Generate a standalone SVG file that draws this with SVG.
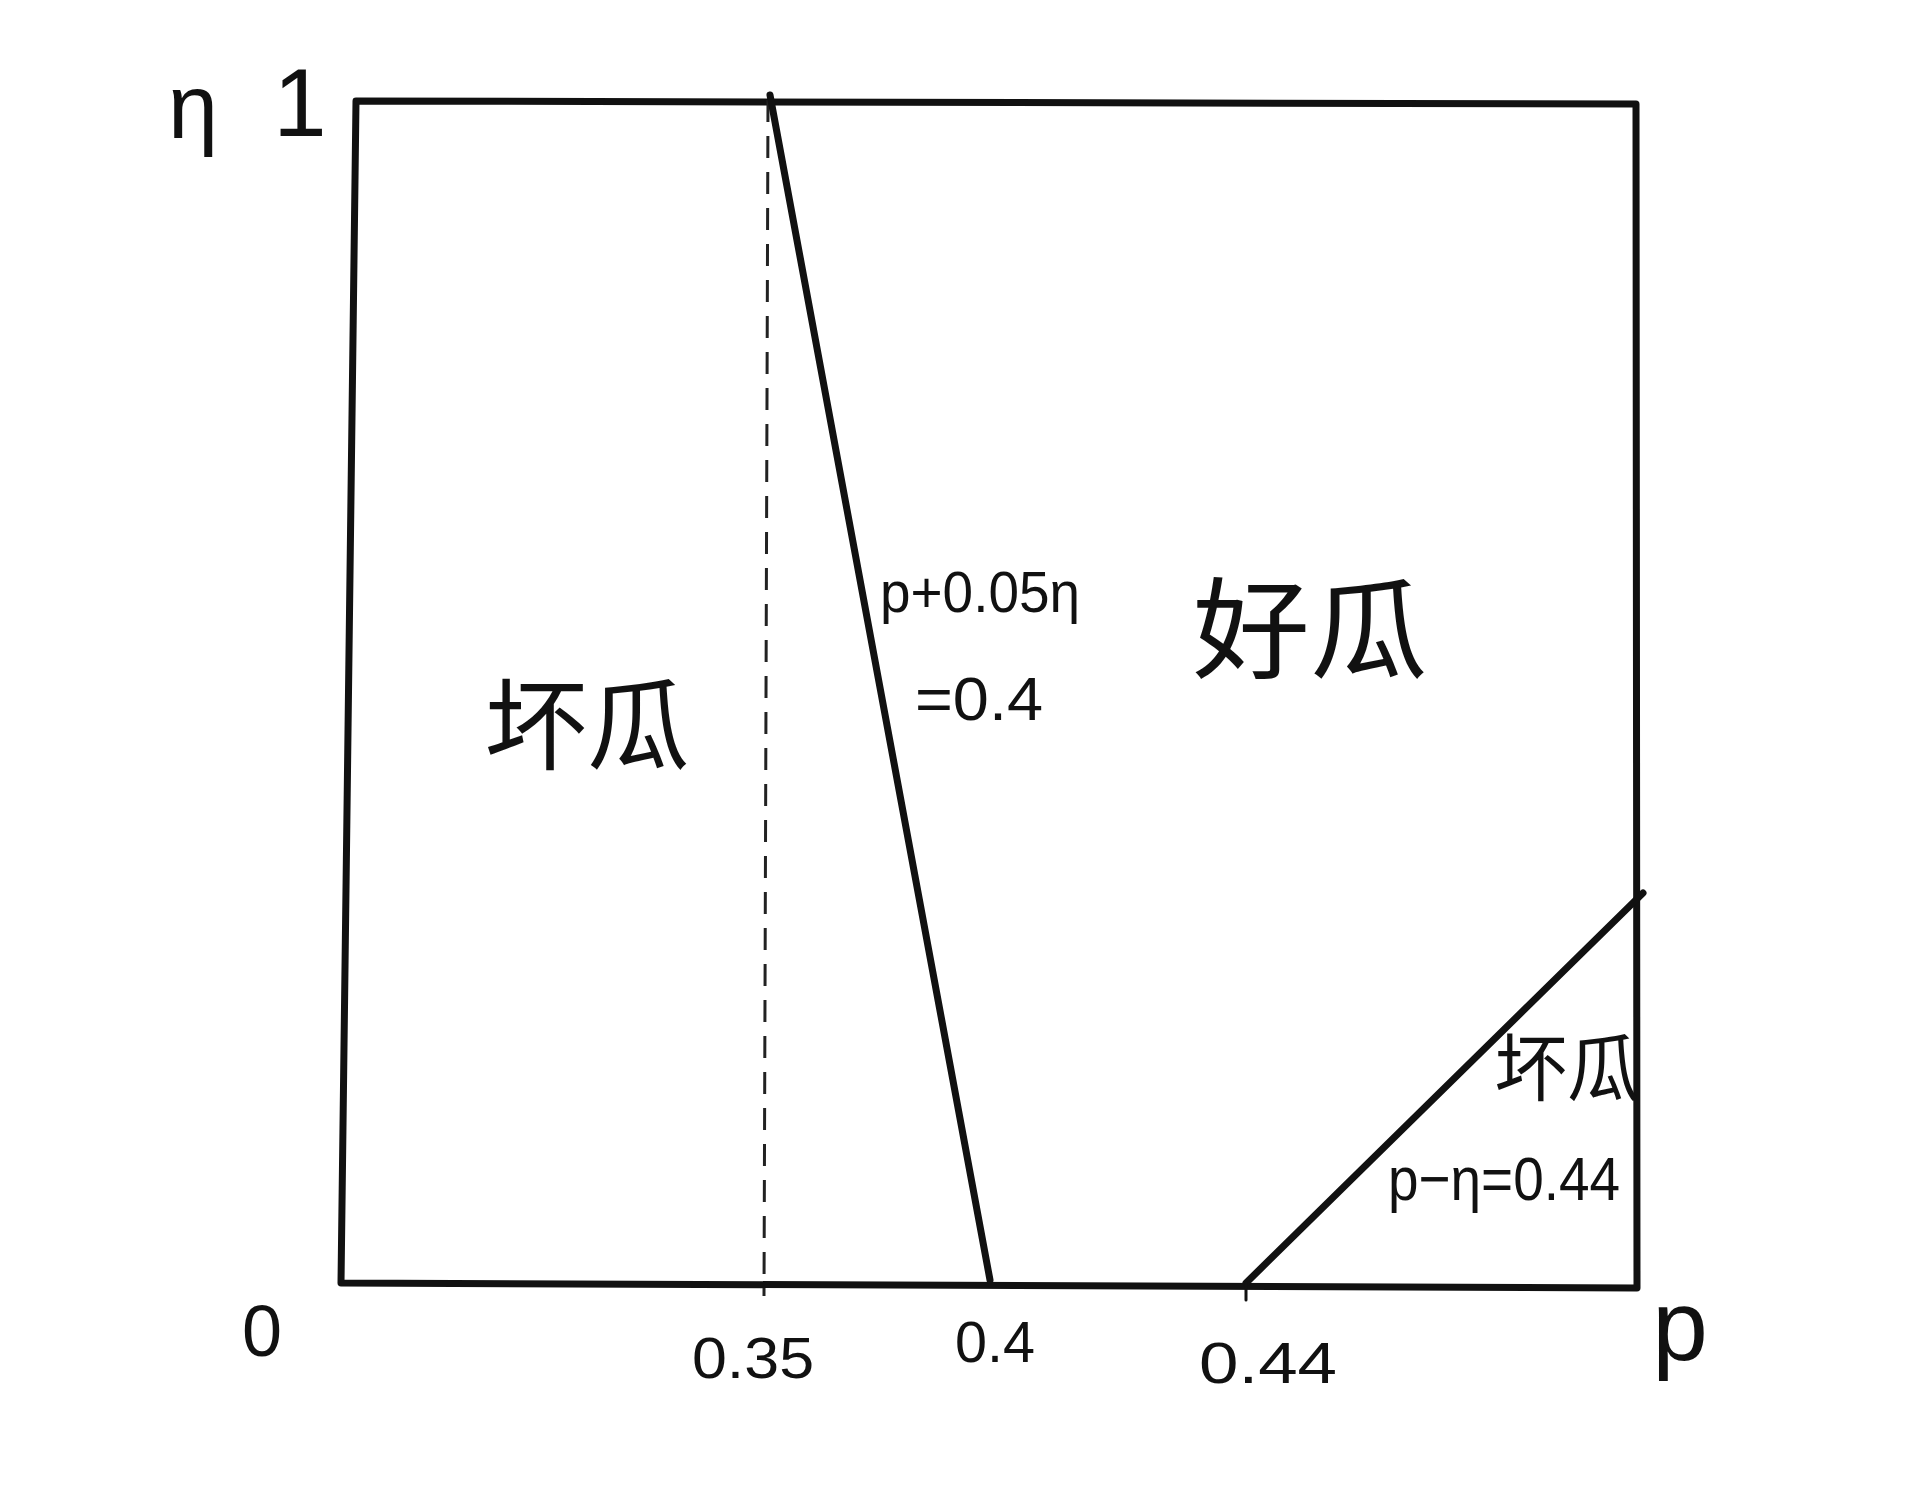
<svg xmlns="http://www.w3.org/2000/svg" width="1911" height="1492" viewBox="0 0 1911 1492">
<style>
.ln{stroke:#111;stroke-width:7;fill:none;stroke-linecap:round;stroke-linejoin:round}
.dash{stroke:#222;stroke-width:3;fill:none;stroke-dasharray:22 14}
.t{font-family:"Liberation Sans","Noto Sans CJK SC",sans-serif;fill:#111}
.cn{font-family:"Noto Sans CJK SC",sans-serif;fill:#111}
</style>
<rect width="1911" height="1492" fill="#fff"/>
<g id="frame">
<path class="ln" d="M356,101 L1636,104 L1637,1288 L341,1283 Z"/>
</g>
<g id="connectors">
<line class="dash" x1="768" y1="100" x2="764" y2="1296"/>
<line class="ln" x1="770" y1="95" x2="990" y2="1280"/>
<line class="ln" x1="1246" y1="1283" x2="1643" y2="893"/>
<line class="ln" x1="1246" y1="1283" x2="1246" y2="1300" style="stroke-width:3"/>
</g>
<g id="axis-labels">
<text class="t" x="193" y="138" font-size="90" text-anchor="middle">η</text>
<text class="t" x="300" y="136" font-size="96" text-anchor="middle">1</text>
<text class="t" x="262" y="1356" font-size="72" text-anchor="middle">0</text>
<text class="t" x="753" y="1378" font-size="58" text-anchor="middle" textLength="122" lengthAdjust="spacingAndGlyphs">0.35</text>
<text class="t" x="995" y="1362" font-size="58" text-anchor="middle" textLength="80" lengthAdjust="spacingAndGlyphs">0.4</text>
<text class="t" x="1268" y="1383" font-size="58" text-anchor="middle" textLength="138" lengthAdjust="spacingAndGlyphs">0.44</text>
<text class="t" x="1680" y="1360" font-size="100" text-anchor="middle">p</text>
</g>
<g id="region-bad-left">
<text class="cn" x="587" y="762" font-size="100" text-anchor="middle" textLength="205" lengthAdjust="spacingAndGlyphs">坏瓜</text>
</g>
<g id="region-good">
<text class="cn" x="1310" y="670" font-size="110" text-anchor="middle" textLength="235" lengthAdjust="spacingAndGlyphs">好瓜</text>
</g>
<g id="line1-label">
<text class="t" x="980" y="612" font-size="58" text-anchor="middle" textLength="200" lengthAdjust="spacingAndGlyphs">p+0.05η</text>
<text class="t" x="979" y="720" font-size="62" text-anchor="middle" textLength="128" lengthAdjust="spacingAndGlyphs">=0.4</text>
</g>
<g id="region-bad-right">
<text class="cn" x="1567" y="1095" font-size="74" text-anchor="middle" textLength="145" lengthAdjust="spacingAndGlyphs">坏瓜</text>
<text class="t" x="1504" y="1200" font-size="62" text-anchor="middle" textLength="232" lengthAdjust="spacingAndGlyphs">p−η=0.44</text>
</g>
</svg>
